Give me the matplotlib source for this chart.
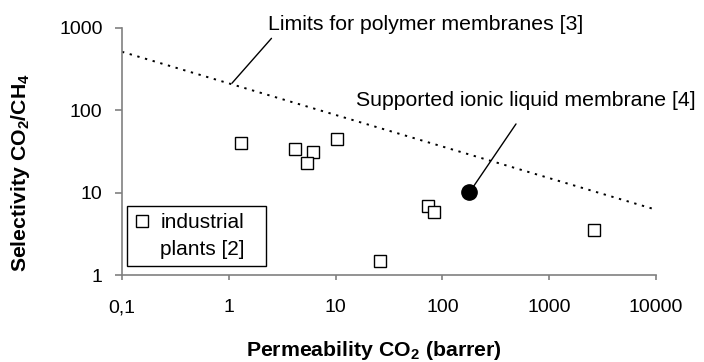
"""CO2/CH4 selectivity vs permeability with the polymer upper bound."""

import matplotlib

matplotlib.use("Agg")
import matplotlib.pyplot as plt
from matplotlib.lines import Line2D
from matplotlib.ticker import FixedLocator, FixedFormatter, NullLocator

plt.rcParams["font.family"] = ["Liberation Sans", "DejaVu Sans"]
plt.rcParams["mathtext.fontset"] = "custom"
plt.rcParams["mathtext.rm"] = "Liberation Sans"
plt.rcParams["mathtext.bf"] = "Liberation Sans:bold"

# industrial plants [2]
plant_perm = [1.29, 4.2, 6.1, 5.4, 10.4, 73, 83, 26.3, 2630]
plant_sel = [39.7, 33.6, 31.1, 23.1, 44.4, 6.95, 5.77, 1.46, 3.47]

# supported ionic liquid membrane [4]
silm_perm = [176]
silm_sel = [10.1]

# limit for polymer membranes [3]
limit_perm = [0.1, 10000]
limit_sel = [510, 6.2]

x_ticks = [0.1, 1, 10, 100, 1000, 10000]
x_labels = ["0,1", "1", "10", "100", "1000", "10000"]
y_ticks = [1, 10, 100, 1000]
y_labels = ["1", "10", "100", "1000"]

fig = plt.figure(figsize=(7.04, 3.62), dpi=100)
ax = fig.add_axes([0.1733, 0.2403, 0.7585, 0.6832])

ax.plot(limit_perm, limit_sel, color="black", lw=1.4, ls=(0, (1.2, 2.9)))
ax.plot(plant_perm, plant_sel, ls="none", marker="s", ms=9.3,
        mfc="white", mec="black", mew=1.0)
ax.plot(silm_perm, silm_sel, ls="none", marker="o", ms=11,
        mfc="black", mec="black")

ax.set_xscale("log")
ax.set_yscale("log")
ax.set_xlim(0.1, 10000)
ax.set_ylim(1, 1000)

ax.xaxis.set_major_locator(FixedLocator(x_ticks))
ax.xaxis.set_major_formatter(FixedFormatter(x_labels))
ax.xaxis.set_minor_locator(NullLocator())
ax.yaxis.set_major_locator(FixedLocator(y_ticks))
ax.yaxis.set_major_formatter(FixedFormatter(y_labels))
ax.yaxis.set_minor_locator(NullLocator())

for side in ("top", "right"):
    ax.spines[side].set_visible(False)
for side in ("left", "bottom"):
    ax.spines[side].set_color("#808080")
    ax.spines[side].set_linewidth(1.2)

ax.tick_params(axis="both", color="#808080", width=1.2, labelsize=14)
ax.tick_params(axis="x", length=3.6, pad=14)
ax.tick_params(axis="y", length=5, pad=9)

ax.set_xlabel(r"Permeability CO$_\mathbf{2}$ (barrer)", fontsize=15.3,
              fontweight="bold", va="top")
ax.xaxis.set_label_coords(0.472, -0.259)
ax.set_ylabel(r"Selectivity CO$_\mathbf{2}$/CH$_\mathbf{4}$", fontsize=15.3,
              fontweight="bold")
ax.yaxis.set_label_coords(-0.168, 0.416)

ax.text(2.31, 950, "Limits for polymer membranes [3]", fontsize=15.3,
        va="baseline", ha="left")
ax.annotate("", xy=(1.07, 212), xytext=(2.51, 743),
            arrowprops=dict(arrowstyle="-", color="black", lw=1.0,
                            shrinkA=0, shrinkB=0))

ax.text(15.4, 112.5, "Supported ionic liquid membrane [4]", fontsize=15.3,
        va="baseline", ha="left")
ax.annotate("", xy=(195, 11.8), xytext=(489, 68),
            arrowprops=dict(arrowstyle="-", color="black", lw=1.0,
                            shrinkA=0, shrinkB=0))

handles = [
    Line2D([], [], ls="none", marker="s", ms=9.3, mfc="white",
           mec="black", mew=1.0),
    Line2D([], [], ls="none"),
]
leg = ax.legend(handles, ["industrial", "plants [2]"], loc="upper left",
                bbox_to_anchor=(0.009, 0.036, 0.26, 0.244), mode="expand",
                borderaxespad=0, fontsize=15,
                frameon=True, fancybox=False, edgecolor="black",
                framealpha=1, labelspacing=0.37, handlelength=0.8,
                handletextpad=0.47, borderpad=0.34)
leg.get_frame().set_linewidth(1.0)

fig.savefig("out.png", dpi=100)
